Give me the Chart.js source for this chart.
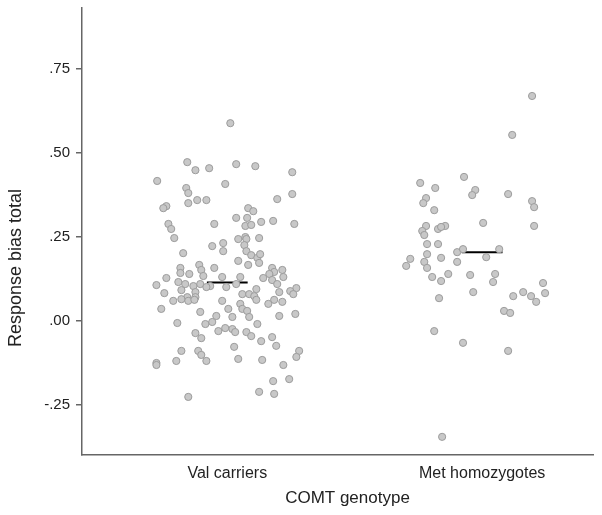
<!DOCTYPE html>
<html><head><meta charset="utf-8">
<script src="https://cdn.jsdelivr.net/npm/chart.js@4/dist/chart.umd.min.js"></script>
<style>html,body{margin:0;padding:0;background:#fff}#wrap{width:602px;height:515px}</style>
</head><body><div id="wrap"><canvas id="c" width="602" height="515"></canvas></div>
<script>
const categories = ['Val carriers', 'Met homozygotes'];
const xTitle = 'COMT genotype';
const yTitle = 'Response bias total';
const yTicks = [-0.25, 0, 0.25, 0.5, 0.75];
const yTickLabels = ['-.25', '.00', '.25', '.50', '.75'];
const medians = [0.115, 0.205];

// Val carriers: jittered x position (category 1) and response bias
const valX = [1.012,0.843,0.875,0.929,0.725,0.992,0.839,0.847,0.847,0.882,0.918,0.761,0.749,1.035,1.110,1.255,1.196,1.255,1.082,1.102,
0.769,0.780,0.949,0.792,0.941,0.984,0.984,0.827,0.890,0.949,0.816,0.898,0.816,0.851,0.906,0.980,0.761,0.808,0.835,0.722,0.867,0.894,0.933,0.918,0.820,0.875,0.753,0.843,0.875,0.820,0.788,0.847,0.871,0.980,
1.035,1.078,1.071,1.094,1.133,1.180,1.263,1.043,1.071,1.075,1.125,1.067,1.075,1.094,1.118,1.129,1.043,1.125,1.082,1.176,1.216,1.184,1.165,1.220,1.141,1.176,1.051,1.196,0.996,1.035,1.114,1.271,1.247,1.204,1.259,1.059,1.086,1.106,1.114,1.184,1.051,1.161,1.216,
0.741,0.894,0.804,0.914,0.941,0.957,0.965,0.992,0.875,0.898,0.820,0.886,0.898,0.918,0.800,0.722,0.722,0.847,
1.059,1.078,1.004,1.020,1.086,1.204,1.267,1.118,1.020,1.031,1.075,1.094,1.133,1.176,1.192,1.027,1.282,1.271,1.043,1.137,1.220,1.243,1.180,1.125,1.184];
const valY = [0.589,0.473,0.449,0.455,0.417,0.408,0.396,0.381,0.351,0.360,0.360,0.342,0.336,0.467,0.461,0.443,0.363,0.378,0.336,0.327,
0.289,0.274,0.289,0.247,0.223,0.232,0.208,0.202,0.167,0.158,0.158,0.152,0.143,0.140,0.134,0.131,0.128,0.116,0.110,0.107,0.104,0.110,0.104,0.101,0.092,0.086,0.083,0.071,0.071,0.065,0.060,0.060,0.063,0.060,
0.307,0.307,0.283,0.286,0.295,0.298,0.289,0.244,0.250,0.244,0.247,0.226,0.208,0.196,0.188,0.199,0.179,0.173,0.167,0.158,0.152,0.146,0.140,0.131,0.128,0.122,0.131,0.110,0.101,0.110,0.095,0.098,0.089,0.086,0.080,0.080,0.080,0.074,0.063,0.063,0.051,0.051,0.057,
0.036,0.027,-0.006,-0.009,-0.003,0.015,-0.030,-0.021,-0.036,-0.051,-0.089,-0.089,-0.101,-0.119,-0.119,-0.125,-0.131,-0.226,
0.036,0.030,0.036,0.012,0.012,0.015,0.021,-0.009,-0.024,-0.033,-0.033,-0.045,-0.060,-0.048,-0.074,-0.077,-0.089,-0.107,-0.113,-0.116,-0.131,-0.173,-0.179,-0.211,-0.217];

// Met homozygotes: jittered x position (category 2) and response bias
const metX = [2.196,2.118,1.929,1.757,1.816,1.973,1.961,2.102,1.780,1.769,2.196,1.812,2.204,2.004,2.204,1.780,1.765,1.773,1.827,1.855,1.839,1.784,1.827,1.902,1.925,2.067,1.784,2.016,1.839,1.718,1.702,1.773,1.902,1.784,1.804,1.867,1.953,2.051,1.839,2.043,2.239,1.965,2.161,2.192,2.122,2.247,2.212,1.831,2.086,2.110,1.812,1.925,2.102,1.843];
const metY = [0.670,0.554,0.429,0.411,0.396,0.390,0.375,0.378,0.366,0.351,0.357,0.330,0.339,0.292,0.283,0.283,0.268,0.256,0.274,0.283,0.280,0.229,0.229,0.205,0.214,0.214,0.199,0.190,0.188,0.185,0.164,0.176,0.176,0.158,0.131,0.140,0.137,0.140,0.119,0.116,0.113,0.086,0.086,0.074,0.074,0.083,0.057,0.068,0.030,0.024,-0.030,-0.065,-0.089,-0.345];

const toPts = (xs, ys) => xs.slice(0, Math.min(xs.length, ys.length)).map((x, i) => ({x: x, y: ys[i]}));
const pointStyle = {
  type: 'scatter', pointRadius: 3.6, pointHoverRadius: 3.6,
  backgroundColor: '#c8c8c8', borderColor: '#9c9c9c', borderWidth: 1
};
const HALF = 0.08;
const medianSets = medians.map((m, i) => ({
  type: 'line', data: [{x: i + 1 - HALF, y: m}, {x: i + 1 + HALF, y: m}],
  borderColor: '#000', borderWidth: 2, pointRadius: 0, fill: false, showLine: true
}));

const FONT = '"Liberation Sans", Arial, sans-serif';
const axisTitles = {
  id: 'axisTitles',
  afterDraw(chart) {
    const c = chart.ctx, a = chart.chartArea;
    c.save();
    c.fillStyle = '#222';
    c.textAlign = 'center';
    c.textBaseline = 'middle';
    c.font = '17px ' + FONT;
    c.fillText(xTitle, (a.left + a.right) / 2 + 10, 498);
    c.translate(16, 268);
    c.rotate(-Math.PI / 2);
    c.font = '18px ' + FONT;
    c.fillText(yTitle, 0, 0);
    c.restore();
  }
};

new Chart(document.getElementById('c'), {
  type: 'scatter',
  data: {
    datasets: [
      Object.assign({label: categories[0], data: toPts(valX, valY)}, pointStyle),
      Object.assign({label: categories[1], data: toPts(metX, metY)}, pointStyle),
      ...medianSets
    ]
  },
  options: {
    responsive: false, animation: false, devicePixelRatio: 1,
    layout: {padding: {left: 0, right: 9, top: 8, bottom: 0}},
    plugins: {legend: {display: false}, tooltip: {enabled: false}},
    scales: {
      x: {
        type: 'linear', min: 0.43, max: 2.435,
        afterBuildTicks: s => { s.ticks = categories.map((c, i) => ({value: i + 1})); },
        afterFit: s => { s.height = 60; s.paddingLeft = 0; s.paddingRight = 0; },
        ticks: {
          callback: v => categories[Math.round(v) - 1] || '',
          font: {size: 16, family: FONT}, color: '#222', padding: 9,
          maxRotation: 0, autoSkip: false
        },
        grid: {display: false, drawTicks: false},
        border: {color: '#666', width: 1.5}
      },
      y: {
        type: 'linear', min: -0.399, max: 0.932,
        afterBuildTicks: s => { s.ticks = yTicks.map(v => ({value: v})); },
        afterFit: s => { s.width = 82; s.paddingTop = 0; s.paddingBottom = 0; },
        ticks: {
          callback: v => { const i = yTicks.findIndex(t => Math.abs(t - v) < 1e-9); return i >= 0 ? yTickLabels[i] : ''; },
          font: {size: 15, family: FONT}, color: '#222', padding: 6, autoSkip: false
        },
        grid: {drawOnChartArea: false, drawTicks: true, tickLength: 6, color: '#666', lineWidth: 1.5},
        border: {color: '#666', width: 1.5}
      }
    }
  },
  plugins: [axisTitles]
});
</script>
</body></html>
